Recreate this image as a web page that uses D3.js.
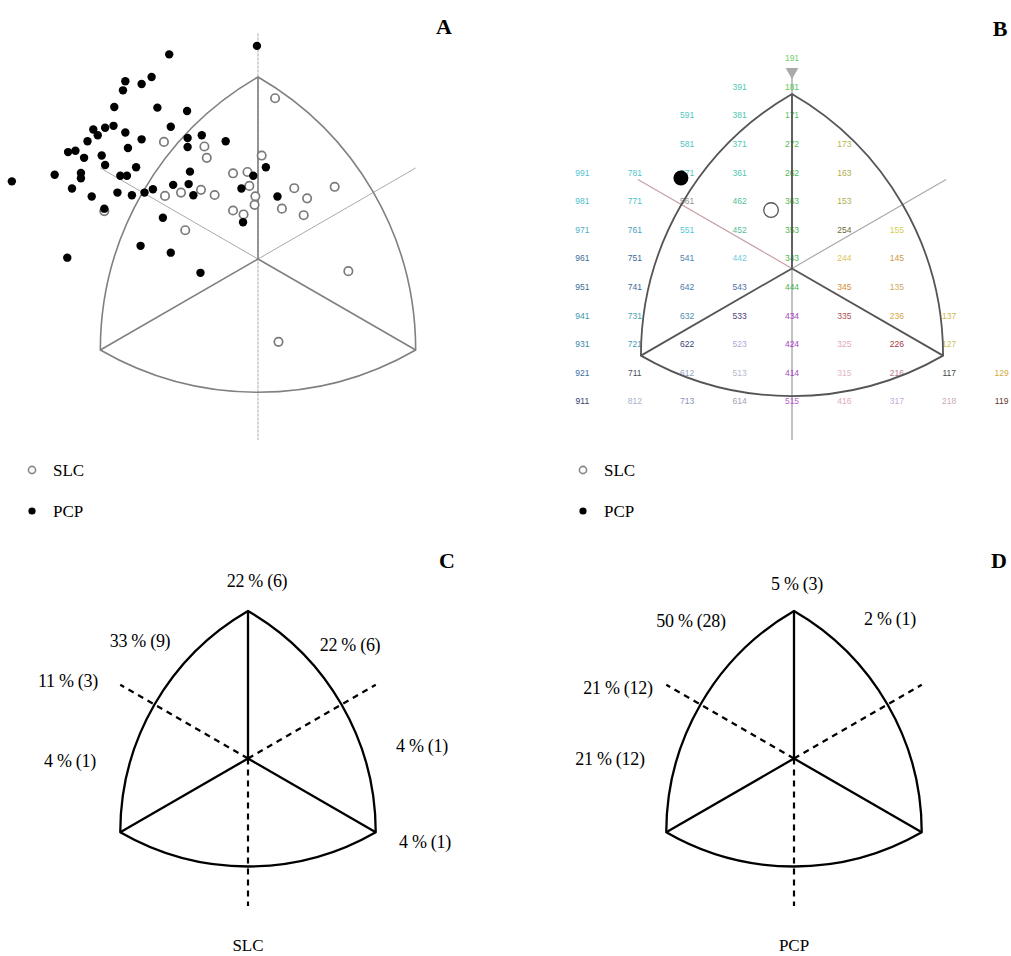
<!DOCTYPE html>
<html><head><meta charset="utf-8">
<script src="https://cdn.jsdelivr.net/npm/d3@7"></script>
<style>body{margin:0;background:#fff}</style>
</head><body>
<svg id="chart" width="1011" height="956"></svg>
<script>
// ---------------- DATA ----------------
const groups = ["SLC", "PCP"];
const panelLetters = ["A", "B", "C", "D"];

// Somatochart coordinates (X = ecto - endo, Y = 2*meso - endo - ecto)
const pcpPoints = [[-3.38,14.82],[-0.04,15.38],[-5.05,13.05],[-4.43,12.87],[-4.05,13.33],[-5.14,12.45],[-5.47,11.35],[-3.83,11.31],[-2.70,11.09],[-3.32,10.05],[-5.50,10.11],[-5.82,9.98],[-6.27,9.87],[-6.10,9.49],[-6.49,9.09],[-5.05,9.67],[-4.43,9.22],[-2.68,9.31],[-2.14,9.49],[-1.23,9.09],[-4.95,8.65],[-2.68,8.71],[-7.23,8.38],[-6.95,8.47],[-6.62,8.00],[-5.95,8.15],[-5.82,7.53],[-4.64,7.38],[-7.74,6.89],[-6.74,7.00],[-6.74,6.65],[-5.24,6.82],[-4.99,6.82],[-2.59,7.09],[-9.37,6.45],[-7.08,5.98],[-3.23,6.22],[-2.64,6.27],[-0.18,6.82],[-0.63,5.98],[-6.33,5.45],[-5.35,5.71],[-4.80,5.53],[-4.32,5.71],[-4.00,5.93],[-2.46,5.53],[-5.85,4.65],[-3.62,4.05],[-0.57,3.75],[-4.47,2.20],[-3.32,1.75],[-7.26,1.42],[-2.19,0.42],[0.30,7.38],[0.74,5.45]];
const slcPoints = [[-3.58,9.05],[-2.04,8.75],[-1.95,8.00],[-0.95,6.98],[-0.40,7.07],[-0.33,6.15],[-0.10,5.47],[-0.13,4.90],[-3.54,5.49],[-2.93,5.71],[-2.17,5.89],[-1.65,5.55],[-0.95,4.53],[-0.55,4.27],[-2.77,3.23],[-5.85,4.49],[0.65,11.93],[0.14,8.15],[1.38,6.00],[1.87,5.33],[0.91,4.65],[1.74,4.22],[2.92,6.09],[3.44,0.53],[0.78,-4.13]];

// Mean somatotypes (panel B)
const meanSLC = [-0.80, 5.38];
const meanPCP = [-4.24, 7.62];

// Somatotype grid labels (endo, meso, ecto)
const somatotypeGrid = [
 "191",
 "391","181",
 "591","381","171",
 "581","371","272","173",
 "991","781","571","361","262","163",
 "981","771","561","462","363","153",
 "971","761","551","452","353","254","155",
 "961","751","541","442","343","244","145",
 "951","741","642","543","444","345","135",
 "941","731","632","533","434","335","236","137",
 "931","721","622","523","424","325","226","127",
 "921","711","612","513","414","315","216","117","129",
 "911","812","713","614","515","416","317","218","119"
];

// Sector distribution (panel C = SLC, panel D = PCP)
const slcPct   = [22, 22, 4, 4, 4, 11, 33];
const slcCount = [6, 6, 1, 1, 1, 3, 9];
const pcpPct   = [5, 2, 50, 21, 21];
const pcpCount = [3, 1, 28, 12, 12];

// ---------------- STYLE / LAYOUT ----------------
const labelColor = {
"191":"#5cc85c","181":"#4cc24c","171":"#44bb44","272":"#3fb83f","262":"#3db53d","363":"#3ab33a","353":"#38b038","343":"#36b036","444":"#3aaa3a",
"391":"#3cc3a8","381":"#3cc3a8","371":"#3cc0a8","361":"#3cbfa8","591":"#3cc0b8","581":"#3cc0b8","571":"#3cbdb8",
"462":"#44b890","452":"#48b890","442":"#5cc8d8","551":"#44c0d0","541":"#3a6fa8","642":"#3a6aa8","543":"#3a66a0","632":"#3a80a8",
"991":"#3ec0cc","981":"#3ab8c8","971":"#38a8c0","961":"#2a5a8c","951":"#2a5a8c","941":"#2a8aa0","931":"#2a7a9c","921":"#2a609c","911":"#1c2460",
"781":"#3cc0c8","771":"#3ab8c8","761":"#3098b8","751":"#2a5a8c","741":"#2a5a8c","731":"#3098b0","721":"#3090b0","711":"#333a50","812":"#9aa8c8",
"622":"#2a2a6a","612":"#8898c0","713":"#7888b0","533":"#3a2a6a","523":"#a8a0d0","513":"#b0b0c4","614":"#9898b0",
"434":"#a030c0","424":"#a030c0","414":"#a038c0","515":"#b050c8",
"173":"#b0b030","163":"#a8a830","153":"#a8a838","254":"#5a5a1c","155":"#d0c840","244":"#d8c040","145":"#c89030","345":"#d08020","135":"#c8a050","335":"#a04040","236":"#d0a030","137":"#c8b040","325":"#e0a0b0","226":"#a02030","127":"#c8c040","315":"#e0b0c0","216":"#b07080","117":"#303030","129":"#d0a030","416":"#e0a0c0","317":"#c0a0d0","218":"#c8a0b0","119":"#502010"
};
const serif = "'Liberation Serif','Times New Roman',serif";
const sans = "'Liberation Sans',Arial,sans-serif";
const slcLabelOffsets = [[9,-178],[102,-114],[174,-13],[177,83],[-178,2],[-180,-78],[-108,-118]];
const pcpLabelOffsets = [[3,-175],[96,-140],[-103,-138],[-176,-71],[-184,0]];

const svg = d3.select("#chart");
const S3 = Math.sqrt(3);

function verts(cx, cy, R) {
  return { T:[cx, cy-R], BR:[cx+R*S3/2, cy+R/2], BL:[cx-R*S3/2, cy+R/2] };
}
function reuleaux(cx, cy, R) {
  const v = verts(cx, cy, R), s = R*S3;
  return `M${v.T}A${s},${s} 0 0 1 ${v.BR}A${s},${s} 0 0 1 ${v.BL}A${s},${s} 0 0 1 ${v.T}Z`;
}
function frame(g, cx, cy, R, stroke, width) {
  const v = verts(cx, cy, R);
  g.append("path").attr("d", reuleaux(cx, cy, R)).attr("fill","none").attr("stroke",stroke).attr("stroke-width",width).attr("stroke-linejoin","round");
  [v.T, v.BR, v.BL].forEach(p => g.append("line").attr("x1",cx).attr("y1",cy).attr("x2",p[0]).attr("y2",p[1])
     .attr("stroke",stroke).attr("stroke-width",width));
}
function legend(g, x, y0) {
  groups.forEach((grp, i) => {
    const y = y0 + i*41;
    if (grp === "SLC") g.append("circle").attr("cx",x).attr("cy",y).attr("r",3.6).attr("fill","#fff").attr("stroke","#888").attr("stroke-width",1.6);
    else g.append("circle").attr("cx",x).attr("cy",y).attr("r",3.6).attr("fill","#000");
    g.append("text").attr("x",x+21).attr("y",y).attr("dy","0.35em").attr("font-family",serif).attr("font-size",17).text(grp);
  });
}
function letter(x, y, t) {
  svg.append("text").attr("x",x).attr("y",y).attr("dy","0.35em").attr("text-anchor","middle")
    .attr("font-family",serif).attr("font-weight","bold").attr("font-size",22).text(t);
}

// ---------------- PANEL A ----------------
{
  const g = svg.append("g");
  const xA = d3.scaleLinear().domain([-10, 10]).range([258 - 262.7, 258 + 262.7]);
  const yA = d3.scaleLinear().domain([-11, 17]).range([279.2 + 166.9, 279.2 - 257.9]);
  const cx = xA(0), cy = yA(1.33), R = yA(0) - yA(12);
  g.append("line").attr("x1",cx).attr("x2",cx).attr("y1",yA(16.2)).attr("y2",yA(-10.6)).attr("stroke","#aaa").attr("stroke-width",1).attr("stroke-dasharray","3,1");
  [[-S3/2,-0.5],[S3/2,-0.5]].forEach(d => g.append("line").attr("x1",cx).attr("y1",cy).attr("x2",cx+d[0]*R).attr("y2",cy+d[1]*R)
     .attr("stroke","#aaa").attr("stroke-width",1));
  frame(g, cx, cy, R, "#808080", 1.6);
  g.selectAll(".slc").data(slcPoints).join("circle").attr("cx",d=>xA(d[0])).attr("cy",d=>yA(d[1])).attr("r",4.2)
    .attr("fill","#fff").attr("stroke","#7a7a7a").attr("stroke-width",1.7);
  g.selectAll(".pcp").data(pcpPoints).join("circle").attr("cx",d=>xA(d[0])).attr("cy",d=>yA(d[1])).attr("r",4.2).attr("fill","#000");
  legend(g, 32, 470);
  letter(444, 26, panelLetters[0]);
}

// ---------------- PANEL B ----------------
{
  const g = svg.append("g");
  const xB = d3.scaleLinear().domain([-10, 10]).range([792 - 262, 792 + 262]);
  const yB = d3.scaleLinear().domain([-8, 16]).range([401.4, 58.2]);
  const cx = xB(0), cy = yB(1.3), R = yB(0) - yB(12.2);
  g.append("line").attr("x1",cx).attr("x2",cx).attr("y1",yB(15)).attr("y2",yB(-10.7)).attr("stroke","#999").attr("stroke-width",1.2);
  g.append("line").attr("x1",cx).attr("y1",cy).attr("x2",cx-S3/2*R*1.02).attr("y2",cy-0.5*R*1.02).attr("stroke","#c8a0a6").attr("stroke-width",1.2);
  g.append("line").attr("x1",cx).attr("y1",cy).attr("x2",cx+S3/2*R*1.02).attr("y2",cy-0.5*R*1.02).attr("stroke","#aaa").attr("stroke-width",1.2);
  g.selectAll(".lab").data(somatotypeGrid).join("text")
    .attr("x", s => xB(+s[2] - +s[0]))
    .attr("y", s => yB(2*+s[1] - +s[0] - +s[2]))
    .attr("dy","0.35em").attr("text-anchor","middle").attr("font-family",sans).attr("font-size",8.5)
    .attr("fill", s => labelColor[s] || "#888").attr("opacity",0.9).text(s => s);
  frame(g, cx, cy, R, "#555", 1.8);
  g.append("path").attr("d", d3.symbol(d3.symbolTriangle, 70)()).attr("transform",`translate(${cx},${yB(15.05)}) rotate(180)`).attr("fill","#aaa");
  g.append("circle").attr("cx",xB(meanSLC[0])).attr("cy",yB(meanSLC[1])).attr("r",7.3).attr("fill","#fff").attr("stroke","#555").attr("stroke-width",1.3);
  g.append("circle").attr("cx",xB(meanPCP[0])).attr("cy",yB(meanPCP[1])).attr("r",7.5).attr("fill","#000");
  legend(g, 583, 470);
  letter(1000, 28, panelLetters[1]);
}

// ---------------- PANELS C & D ----------------
function sectorPanel(cx, cy, R, pct, cnt, offs, name) {
  const g = svg.append("g");
  const dash = "6,5";
  g.append("line").attr("x1",cx).attr("y1",cy).attr("x2",cx).attr("y2",cy+R).attr("stroke","#000").attr("stroke-width",2.2).attr("stroke-dasharray",dash);
  [[-S3/2,-0.5],[S3/2,-0.5]].forEach(d => g.append("line").attr("x1",cx).attr("y1",cy).attr("x2",cx+d[0]*R).attr("y2",cy+d[1]*R)
     .attr("stroke","#000").attr("stroke-width",2.2).attr("stroke-dasharray",dash));
  frame(g, cx, cy, R, "#000", 2.3);
  pct.forEach((p, i) => g.append("text").attr("x",cx+offs[i][0]).attr("y",cy+offs[i][1]).attr("dy","0.35em")
     .attr("text-anchor","middle").attr("font-family",serif).attr("font-size",18).attr("letter-spacing",-0.3).text(`${p} % (${cnt[i]})`));
  g.append("text").attr("x",cx).attr("y",945).attr("dy","0.35em").attr("text-anchor","middle").attr("font-family",serif).attr("font-size",17).text(name);
}
sectorPanel(248, 758.5, 147.5, slcPct, slcCount, slcLabelOffsets, groups[0]);
sectorPanel(794, 758.5, 147.5, pcpPct, pcpCount, pcpLabelOffsets, groups[1]);
letter(447, 560, panelLetters[2]);
letter(999, 560, panelLetters[3]);
</script>
</body></html>
